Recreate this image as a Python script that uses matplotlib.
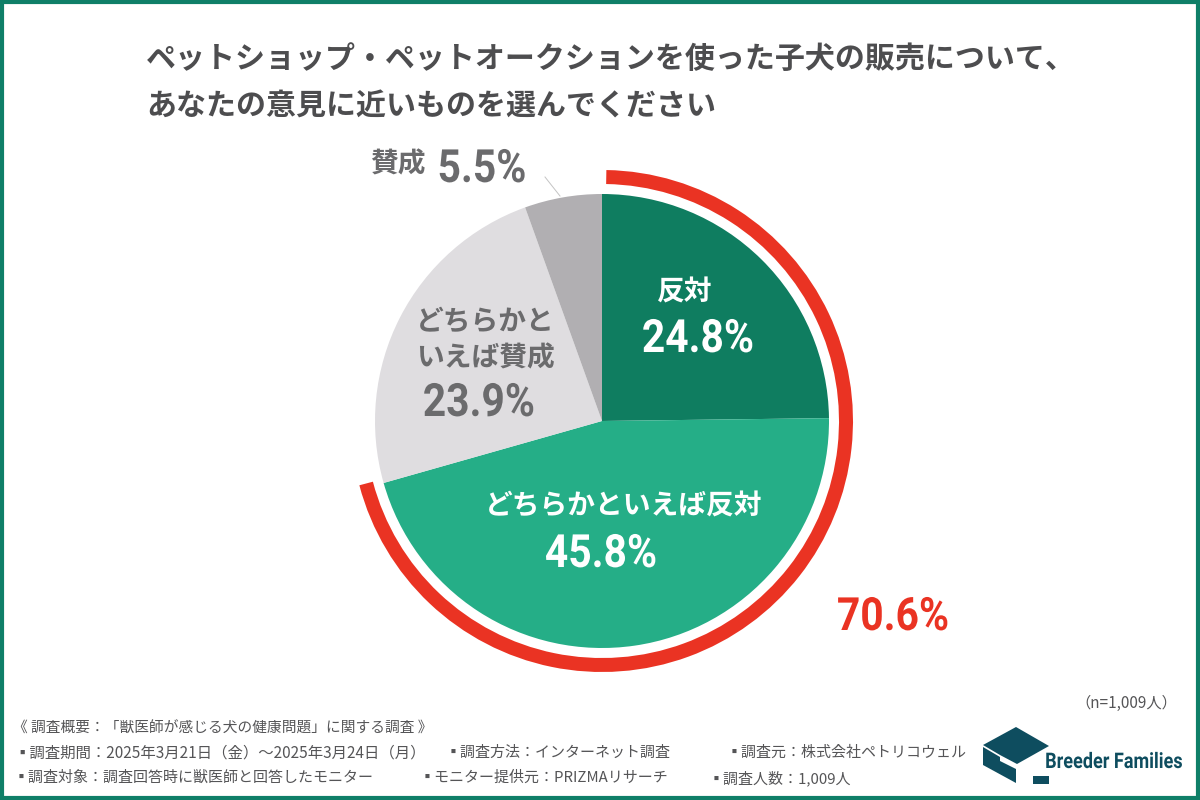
# -*- coding: utf-8 -*-
import matplotlib
matplotlib.use('Agg')
import matplotlib.pyplot as plt
from matplotlib.patches import Polygon, Rectangle
from matplotlib.patheffects import AbstractPathEffect
from matplotlib.transforms import Affine2D

JP = 'Noto Sans CJK JP'
NUM = ['Roboto', JP]
plt.rcParams['font.family'] = [JP, 'DejaVu Sans']

# data
labels = ['反対', 'どちらかといえば反対', 'どちらかと\nいえば賛成', '賛成']
values = [24.8, 45.8, 23.9, 5.5]
colors = ['#0f7d60', '#25ae87', '#dfdde0', '#b1afb2']
total_label = '70.6%'
agree_share = [70.6, 29.4]

title_lines = ['ペットショップ・ペットオークションを使った子犬の販売について、',
               'あなたの意見に近いものを選んでください']
sample_note = '（n=1,009人）'
footer_head = '《 調査概要：「獣医師が感じる犬の健康問題」に関する調査 》'
footer_row1 = ['▪調査期間：2025年3月21日（金）～2025年3月24日（月）',
               '▪調査方法：インターネット調査', '▪調査元：株式会社ペトリコウェル']
footer_row2 = ['▪調査対象：調査回答時に獣医師と回答したモニター',
               '▪モニター提供元：PRIZMAリサーチ', '▪調査人数：1,009人']


class Condense(AbstractPathEffect):
    # squeeze text sideways around x0 (no condensed font is installed)
    def __init__(self, x0, sx):
        super().__init__()
        self.x0 = x0
        self.sx = sx

    def draw_path(self, renderer, gc, tpath, affine, rgbFace=None):
        squeeze = Affine2D().translate(-self.x0, 0).scale(self.sx, 1).translate(self.x0, 0)
        renderer.draw_path(gc, tpath, affine + squeeze, rgbFace)


fig = plt.figure(figsize=(12, 8), dpi=100, facecolor='white')
ax = fig.add_axes([0, 0, 1, 1])


def Y(y):
    # pixel rows counted from the top of the image
    return 800 - y


def number(x, y, s, color, size=33):
    ax.text(x, Y(y), s, fontsize=size, fontweight='bold', color=color, ha='center', va='center',
            family=NUM, path_effects=[Condense(x, 0.89)])


# main pie
ax.pie(values, colors=colors, startangle=90, counterclock=False,
       center=(602, Y(421)), radius=227,
       wedgeprops=dict(linewidth=0))

# leader line for the small slice
ax.plot([545, 560], [Y(177), Y(196)], color='#c4c4c4', lw=0.7)

# red arc around the "against" share
arc, _ = ax.pie(agree_share, colors=['#ea3323', 'none'], startangle=89, counterclock=False,
                center=(602, Y(421)), radius=251,
                wedgeprops=dict(width=14, linewidth=0))
ax.set_xlim(0, 1200)
ax.set_ylim(0, 800)
ax.set_aspect('auto')
ax.axis('off')

# border
ax.add_patch(Rectangle((2, 2), 1196, 796, fill=False, edgecolor='#0f7f68', lw=3))

# title
ax.text(146, Y(59), title_lines[0], fontsize=21.6, fontweight='bold', color='#4d4d4f', va='center')
ax.text(146, Y(107), title_lines[1], fontsize=21.6, fontweight='bold', color='#4d4d4f', va='center')

# slice labels
grey = '#6b6b6d'
ax.text(685, Y(293), labels[0], fontsize=20, fontweight='bold', color='white', ha='center', va='center')
number(698, 339, f'{values[0]}%', 'white')
ax.text(624, Y(507), labels[1], fontsize=20, fontweight='bold', color='white', ha='center', va='center')
number(601, 554, f'{values[1]}%', 'white')
ax.text(485, Y(340), labels[2], fontsize=20, fontweight='bold', color=grey, ha='center', va='center',
        linespacing=1.45)
number(479, 403, f'{values[2]}%', grey)
ax.text(398, Y(164), labels[3], fontsize=20, fontweight='bold', color=grey, ha='center', va='center')
number(482, 169, f'{values[3]}%', grey)
number(893, 617, total_label, '#ea3323')

# footer
ft = dict(color='#555557', va='center')
ax.text(1177, Y(703), sample_note, ha='right', fontsize=11, **ft)
ax.text(13, Y(729), footer_head, fontsize=10.6, **ft)
for x, s, size in zip([14, 446, 727], footer_row1, [11.1, 10.8, 10.8]):
    ax.text(x, Y(753), s, fontsize=size, **ft)
for x, s in zip([14, 420, 709], footer_row2):
    ax.text(x, Y(778), s, fontsize=10.8, **ft)

# logo
logo = '#0e4d5f'
ax.add_patch(Polygon([(983, Y(745)), (1016, Y(727)), (1049, Y(746)), (1017, Y(764)), (1000, Y(755))],
                     color=logo, lw=0))
ax.add_patch(Polygon([(983, Y(747)), (1000, Y(757)), (1000, Y(761)), (1016, Y(769)), (1016, Y(783)), (983, Y(765))],
                     color=logo, lw=0))
ax.add_patch(Rectangle((1033, Y(784)), 16, 8, color=logo, lw=0))
ax.text(1114, Y(762), 'Breeder Families', fontsize=15.5, fontweight='bold', color=logo, ha='center', va='center',
        family=NUM, path_effects=[Condense(1114, 0.84)])

fig.savefig('out.png', dpi=100)
